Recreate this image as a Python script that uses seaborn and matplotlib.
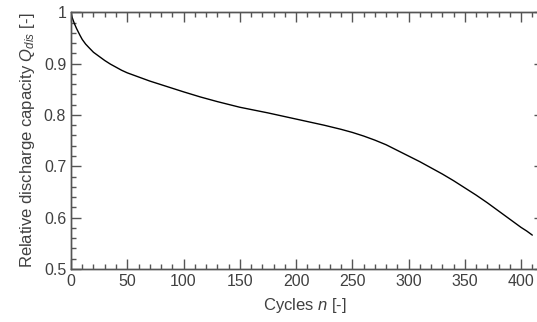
import matplotlib
matplotlib.use("Agg")
import matplotlib.pyplot as plt
from matplotlib.ticker import MultipleLocator
import pandas as pd
import seaborn as sns

# Capacity fade data
cycles = [0, 1, 2, 3, 5, 8, 10, 13, 16, 20, 25, 30, 35, 40, 45, 50, 60, 70,
          80, 90, 100, 115, 130, 150, 175, 200, 225, 240, 250, 260, 270,
          280, 290, 300, 310, 320, 330, 340, 350, 360, 370, 380, 390, 400,
          405, 410]
capacity = [1.0, 0.990, 0.984, 0.978, 0.968, 0.955, 0.947, 0.938, 0.931,
            0.922, 0.914, 0.906, 0.899, 0.893, 0.887, 0.882, 0.874, 0.866,
            0.859, 0.852, 0.845, 0.835, 0.826, 0.815, 0.804, 0.792, 0.780,
            0.772, 0.766, 0.759, 0.751, 0.742, 0.731, 0.720, 0.709, 0.697,
            0.685, 0.672, 0.658, 0.644, 0.629, 0.613, 0.597, 0.581, 0.574,
            0.566]

df = pd.DataFrame({"n": cycles, "Q": capacity})

sns.set_style("ticks")
plt.rcParams['font.family'] = ['Liberation Sans', 'DejaVu Sans']
plt.rcParams['mathtext.fontset'] = 'custom'
plt.rcParams['mathtext.it'] = 'Liberation Sans:italic'
plt.rcParams['mathtext.rm'] = 'Liberation Sans'

txt = '#404040'
spine = '#555555'

fig, ax = plt.subplots(figsize=(5.37, 3.22), dpi=100)
fig.subplots_adjust(left=0.1322, right=1.003, bottom=0.1646, top=0.962)

sns.lineplot(data=df, x="n", y="Q", color='black', linewidth=1.0, ax=ax)

ax.set_xlim(0, 415.6)
ax.set_ylim(0.5, 1.0)
ax.xaxis.set_major_locator(MultipleLocator(50))
ax.xaxis.set_minor_locator(MultipleLocator(10))
ax.yaxis.set_minor_locator(MultipleLocator(0.02))
ax.set_yticks([0.5, 0.6, 0.7, 0.8, 0.9, 1.0])
ax.set_yticklabels(['0.5', '0.6', '0.7', '0.8', '0.9', '1'])

ax.tick_params(which='major', direction='in', length=7, width=1,
               color=spine, labelsize=11.5, labelcolor=txt, top=True)
ax.tick_params(which='minor', direction='in', length=3.6, width=1,
               color=spine, top=True)

# short ticks on the right edge, majors only
ax2 = ax.twinx()
ax2.set_ylim(ax.get_ylim())
ax2.set_yticks([0.5, 0.6, 0.7, 0.8, 0.9, 1.0])
ax2.tick_params(direction='in', length=3.5, width=1, color=spine,
                labelright=False)
ax2.grid(False)

for a in (ax, ax2):
    for s in a.spines.values():
        s.set_color(spine)
        s.set_linewidth(1.0)

ax.set_xlabel("Cycles $n$ [-]", fontsize=12, color=txt, labelpad=5)
ax.set_ylabel("Relative discharge capacity $Q_{dis}$ [-]", fontsize=12,
              color=txt, labelpad=5)

fig.savefig("out.png", dpi=100)
